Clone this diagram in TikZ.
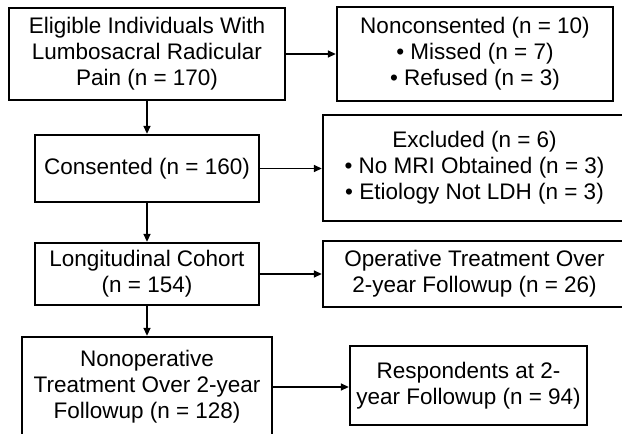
\documentclass[tikz,border=0pt]{standalone}
\usepackage{fontspec}
\setmainfont{Liberation Sans}
\usepackage{tikz}
\usetikzlibrary{arrows.meta,positioning}

\begin{document}
\begin{tikzpicture}[
  x=0.025cm, y=-0.025cm,
  font=\fontsize{16pt}{18.6pt}\selectfont, >={Triangle[length=5.5pt, width=5pt]},
  bx/.style={draw=black, line width=1.8pt, align=center, inner sep=0pt},
  arr/.style={->, line width=0.8pt},
]
\useasboundingbox (0,0) rectangle (622,433);
\node[bx, minimum width=6.9cm, minimum height=2.3cm] (elig) at (147,54)
  {Eligible Individuals With\\Lumbosacral Radicular\\Pain (n = 170)};
\node[bx, minimum width=6.9cm, minimum height=2.35cm] (noncons) at (475,54)
  {Nonconsented (n = 10)\\\textbullet{} Missed (n = 7)\\\textbullet{} Refused (n = 3)};
\node[bx, minimum width=5.6cm, minimum height=1.675cm] (cons) at (147,168.5)
  {Consented (n = 160)};
\node[bx, minimum width=7.575cm, minimum height=2.65cm] (excl) at (474.5,168)
  {Excluded (n = 6)\\\textbullet{} No MRI Obtained (n = 3)\\\textbullet{} Etiology Not LDH (n = 3)};
\node[bx, minimum width=5.6cm, minimum height=1.55cm] (cohort) at (147,274)
  {Longitudinal Cohort\\(n = 154)};
\node[bx, minimum width=7.575cm, minimum height=1.65cm] (oper) at (474.5,274)
  {Operative Treatment Over\\2-year Followup (n = 26)};
\node[bx, minimum width=6.25cm, minimum height=2.5cm] (nonop) at (147,387)
  {Nonoperative\\Treatment Over 2-year\\Followup (n = 128)};
\node[bx, minimum width=5.925cm, minimum height=1.975cm] (resp) at (468.5,385.5)
  {Respondents at 2-\\year Followup (n = 94)};
% down the main column
\draw[arr] (elig) -- (cons);
\draw[arr] (cons) -- (cohort);
\draw[arr] (cohort) -- (nonop);
% out to the right
\draw[arr] (elig.east) -- (elig.east -| noncons.west);
\draw[arr] (cons.east) -- (cons.east -| excl.west);
\draw[arr] (cohort.east) -- (cohort.east -| oper.west);
\draw[arr] (nonop.east) -- (nonop.east -| resp.west);
\end{tikzpicture}
\end{document}
